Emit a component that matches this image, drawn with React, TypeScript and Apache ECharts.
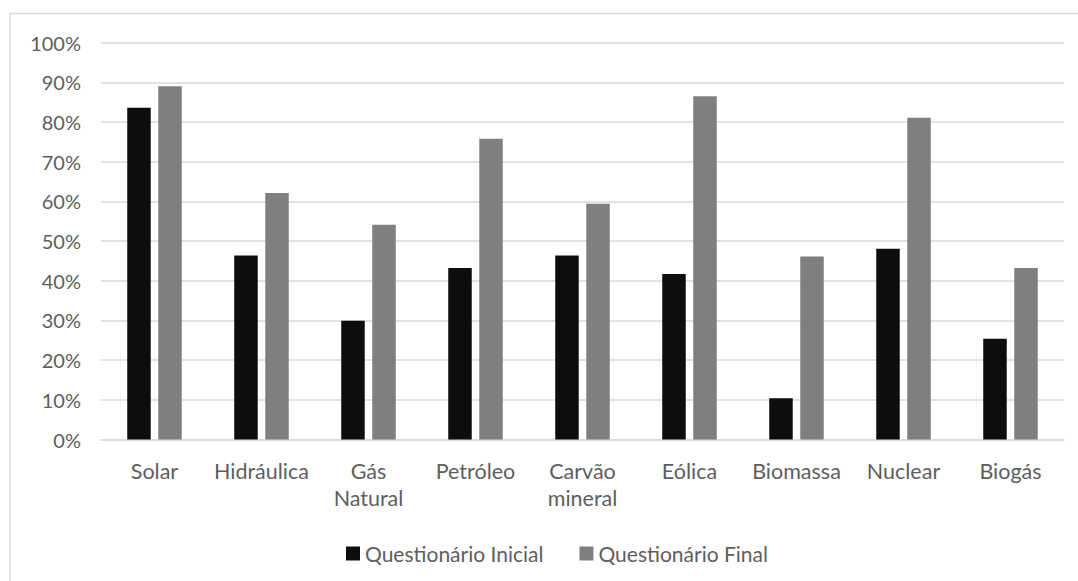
import React, { useEffect, useRef } from "react";
import * as echarts from "echarts";

const categories = ["Solar", "Hidráulica", "Gás\nNatural", "Petróleo", "Carvão\nmineral", "Eólica", "Biomassa", "Nuclear", "Biogás"];
const inicial = [83.6, 46.4, 29.9, 43.2, 46.4, 41.7, 10.4, 48.1, 25.4];
const final = [89.0, 62.1, 54.1, 75.8, 59.4, 86.5, 46.1, 81.1, 43.2];
const seriesNames = ["Questionário Inicial", "Questionário Final"];

const FONT = "Lato";
const TEXT = "#5e5e5e";

export default function App() {
  const ref = useRef<HTMLDivElement>(null);
  useEffect(() => {
    document.body.style.margin = "0";
    const chart = echarts.init(ref.current!, null, { renderer: "svg" });
    chart.setOption({
      animation: false,
      backgroundColor: "#ffffff",
      graphic: [
        {
          type: "rect",
          shape: { x: 10, y: 13.5, width: 1200, height: 700 },
          style: { fill: "none", stroke: "#d9d9d9", lineWidth: 1.5 },
          silent: true,
        },
      ],
      grid: { left: 101, right: 14, top: 42.7, bottom: 141.5, containLabel: false },
      legend: {
        left: 341,
        top: 538,
        itemWidth: 14,
        itemHeight: 14,
        itemGap: 36,
        icon: "rect",
        textStyle: { fontFamily: FONT, fontSize: 21, color: TEXT },
        data: seriesNames,
      },
      xAxis: {
        type: "category",
        data: categories,
        axisLine: { show: true, lineStyle: { color: "#d9d9d9", width: 1.5 } },
        axisTick: { show: false },
        axisLabel: {
          interval: 0,
          margin: 18,
          fontFamily: FONT,
          fontSize: 21.5,
          lineHeight: 27,
          color: TEXT,
        },
      },
      yAxis: {
        type: "value",
        min: 0,
        max: 100,
        interval: 10,
        axisLine: { show: false },
        axisTick: { show: false },
        splitLine: { lineStyle: { color: "#d9d9d9", width: 1.5 } },
        axisLabel: {
          formatter: "{value}%",
          margin: 20,
          fontFamily: FONT,
          fontSize: 20,
          color: TEXT,
        },
      },
      series: [
        {
          name: seriesNames[0],
          type: "bar",
          data: inicial,
          barWidth: 23.5,
          barGap: "32%",
          itemStyle: { color: "#0d0d0d" },
        },
        {
          name: seriesNames[1],
          type: "bar",
          data: final,
          barWidth: 23.5,
          barGap: "32%",
          itemStyle: { color: "#7f7f7f" },
        },
      ],
    });
    return () => chart.dispose();
  }, []);
  return <div ref={ref} style={{ position: "fixed", left: 0, top: 0, width: 1078, height: 581 }} />;
}
